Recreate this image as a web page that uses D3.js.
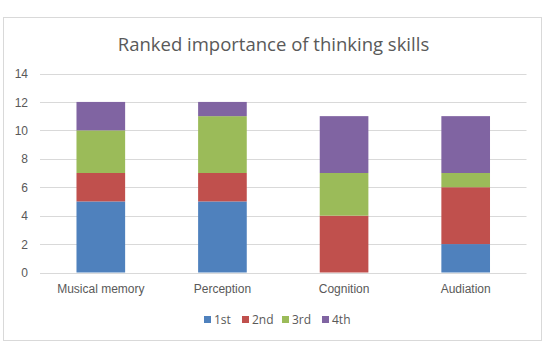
<!DOCTYPE html>
<html><head><meta charset="utf-8">
<script src="https://cdn.jsdelivr.net/npm/d3@7"></script>
<style>body{margin:0;background:#fff;}svg{display:block;font-family:"Open Sans","Liberation Sans",sans-serif;}</style>
</head><body><div id="chart"></div>
<script>
const categories = ["Musical memory", "Perception", "Cognition", "Audiation"];
const seriesNames = ["1st", "2nd", "3rd", "4th"];
const first  = [5, 5, 0, 2];
const second = [2, 2, 4, 4];
const third  = [3, 4, 3, 1];
const fourth = [2, 1, 4, 4];
const yTicks = [0, 2, 4, 6, 8, 10, 12, 14];
const colors = ["#4F81BD", "#C0504D", "#9BBB59", "#8064A2"];
const title = "Ranked importance of thinking skills";

const W = 547, H = 343;
const svg = d3.select("#chart").append("svg").attr("width", W).attr("height", H);
svg.append("rect").attr("x", 3.5).attr("y", 17.5).attr("width", 538).attr("height", 323)
  .attr("fill", "#fff").attr("stroke", "#d9d9d9");

const x = d3.scaleBand().domain(categories).range([40, 526.5]).paddingInner(0.6).paddingOuter(0.3);
const y = d3.scaleLinear().domain([0, 14]).range([272.5, 73.5]);

const rows = categories.map((c, i) => ({cat: c, "1st": first[i], "2nd": second[i], "3rd": third[i], "4th": fourth[i]}));
const stacked = d3.stack().keys(seriesNames)(rows);

// gridlines
svg.append("g").selectAll("line").data(yTicks).join("line")
  .attr("x1", 40).attr("x2", 526.5)
  .attr("y1", d => Math.round(y(d)) + 0.5).attr("y2", d => Math.round(y(d)) + 0.5)
  .attr("stroke", "#d9d9d9").attr("stroke-width", 1);

// y axis labels
const yAxis = d3.axisLeft(y).tickValues(yTicks).tickSize(0).tickPadding(0);
const gy = svg.append("g").attr("transform", "translate(28,0)").call(yAxis);
gy.select(".domain").remove();
gy.selectAll("text").attr("fill", "#595959").style("font-size", "12px").attr("dy", "0.35em");

// bars
svg.append("g").selectAll("g").data(stacked).join("g")
  .attr("fill", (d, i) => colors[i])
  .selectAll("rect").data(d => d).join("rect")
  .attr("x", d => x(d.data.cat))
  .attr("width", x.bandwidth())
  .attr("y", d => y(d[1]))
  .attr("height", d => y(d[0]) - y(d[1]));

// x axis labels
const xAxis = d3.axisBottom(x).tickSize(0).tickPadding(0);
const gx = svg.append("g").attr("transform", "translate(0,284)").call(xAxis);
gx.select(".domain").remove();
gx.selectAll("text").attr("fill", "#595959").style("font-size", "12px").attr("dy", "0.71em");

// title
svg.append("text").attr("x", 273.5).attr("y", 51).attr("text-anchor", "middle")
  .attr("fill", "#595959").style("font-size", "18.5px").text(title);

// legend
const legX = [204, 242, 282, 322];
const leg = svg.append("g").selectAll("g").data(seriesNames).join("g")
  .attr("transform", (d, i) => `translate(${legX[i]},320)`);
leg.append("rect").attr("x", 0).attr("y", -4).attr("width", 7).attr("height", 7).attr("fill", (d, i) => colors[i]);
leg.append("text").attr("x", 10).attr("y", 0).attr("dy", "0.35em").attr("fill", "#595959")
  .style("font-size", "12px").text(d => d);
</script></body></html>
